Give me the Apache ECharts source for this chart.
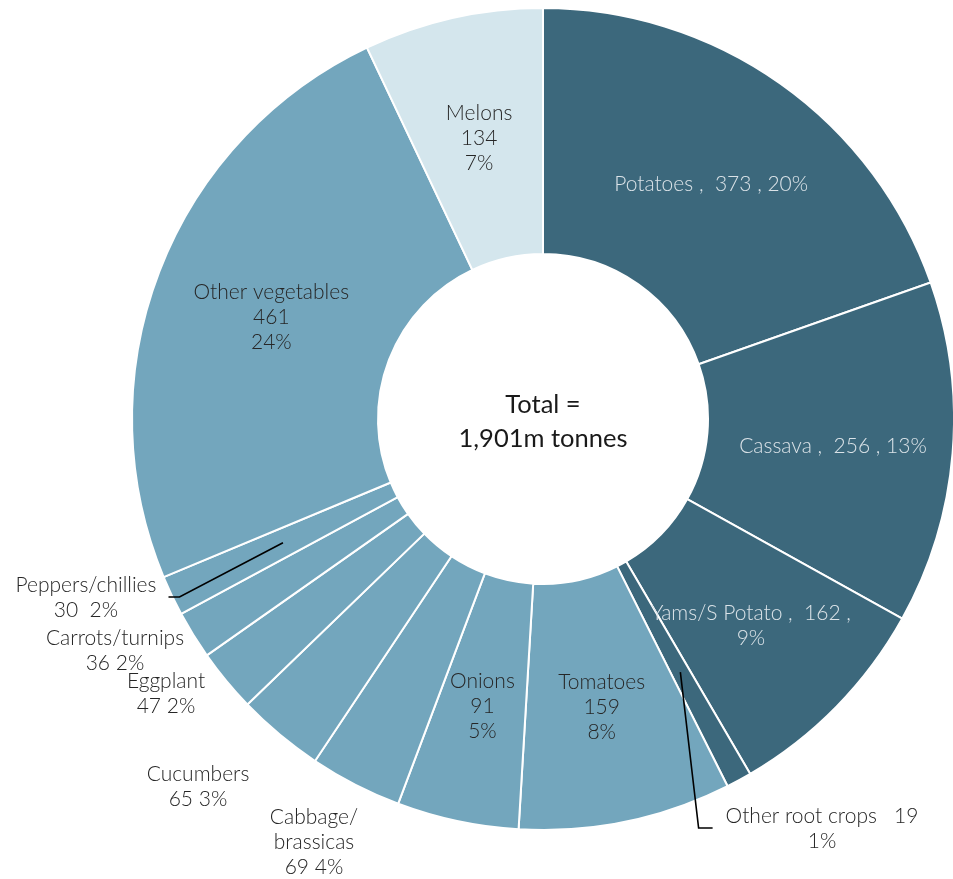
<!DOCTYPE html>
<html>
<head>
<meta charset="utf-8">
<script src="https://cdn.jsdelivr.net/npm/echarts@6/dist/echarts.min.js"></script>
<style>
  html, body { margin: 0; padding: 0; background: #ffffff; }
  #chart { width: 953px; height: 879px; }
</style>
</head>
<body>
<div id="chart"></div>
<script>
// Production by crop, million tonnes
const categories = [
  'Potatoes', 'Cassava', 'Yams/S Potato', 'Other root crops',
  'Tomatoes', 'Onions', 'Cabbage/brassicas', 'Cucumbers', 'Eggplant',
  'Carrots/turnips', 'Peppers/chillies', 'Other vegetables', 'Melons'
];
const production = [373, 256, 162, 19, 159, 91, 69, 65, 47, 36, 30, 461, 134];
const cropGroup = [
  'root', 'root', 'root', 'root',
  'veg', 'veg', 'veg', 'veg', 'veg', 'veg', 'veg', 'veg', 'melon'
];
const centreText = ['Total =', '1,901m tonnes'];

const groupColor = { root: '#3c687c', veg: '#73a6bd', melon: '#d4e6ed' };
const FONT = 'Lato';
const FONT_SIZE = 21;

// Slices whose labels sit outside the ring, with the centre of each label block
const outsideLabelAt = {
  'Other root crops': [822, 829],
  'Cabbage/brassicas': [314, 842],
  'Cucumbers': [198, 787],
  'Eggplant': [166, 694],
  'Carrots/turnips': [115, 651],
  'Peppers/chillies': [86, 598]
};
// Outside labels that get a leader line, and which side of the text it meets
const leaderSide = { 'Other root crops': 'left', 'Peppers/chillies': 'right' };

function labelText(name, value, pct) {
  switch (name) {
    case 'Potatoes':
    case 'Cassava':
      return name + ' ,  ' + value + ' , ' + pct + '%';
    case 'Yams/S Potato':
      return name + ' ,  ' + value + ' ,\n' + pct + '%';
    case 'Other root crops':
      return name + '   ' + value + '\n' + pct + '%';
    case 'Cabbage/brassicas':
      return 'Cabbage/\nbrassicas\n' + value + ' ' + pct + '%';
    case 'Peppers/chillies':
      return name + '\n' + value + '  ' + pct + '%';
    case 'Cucumbers':
    case 'Eggplant':
    case 'Carrots/turnips':
      return name + '\n' + value + ' ' + pct + '%';
    default:
      return name + '\n' + value + '\n' + pct + '%';
  }
}

const ringData = categories.map((name, i) => ({
  name,
  value: production[i],
  itemStyle: { color: groupColor[cropGroup[i]] },
  label: {
    show: !(name in outsideLabelAt),
    color: cropGroup[i] === 'root' ? '#dbe3e8' : '#262626'
  }
}));

// Transparent inner pie that carries the outer labels; its edge is the ring's mid radius
const guideData = categories.map((name, i) => ({
  name,
  value: production[i],
  label: { show: name in outsideLabelAt },
  labelLine: { show: name in leaderSide }
}));

const labelStyle = {
  fontFamily: FONT,
  fontWeight: 300,
  fontSize: FONT_SIZE,
  lineHeight: 25,
  formatter: p => labelText(p.name, p.value, p.percent)
};

const chart = echarts.init(document.getElementById('chart'), null, { renderer: 'canvas' });
chart.setOption({
  backgroundColor: '#ffffff',
  animation: false,
  series: [
    {
      type: 'pie',
      center: [543, 419],
      radius: [165, 411],
      startAngle: 90,
      clockwise: true,
      percentPrecision: 0,
      avoidLabelOverlap: false,
      silent: true,
      itemStyle: { borderColor: '#ffffff', borderWidth: 2 },
      label: Object.assign({ position: 'inside' }, labelStyle),
      labelLine: { show: false },
      labelLayout: { dy: 3 },
      data: ringData
    },
    {
      type: 'pie',
      center: [543, 419],
      radius: [0, 288],
      startAngle: 90,
      clockwise: true,
      percentPrecision: 0,
      avoidLabelOverlap: false,
      silent: true,
      z: 3,
      itemStyle: { color: 'rgba(0,0,0,0)', borderWidth: 0 },
      label: Object.assign({ position: 'outside', color: '#262626' }, labelStyle),
      labelLine: { show: true, lineStyle: { color: '#000000', width: 1.6 } },
      labelLayout: function (params) {
        const name = categories[params.dataIndex];
        const at = outsideLabelAt[name];
        if (!at) return {};
        const out = { x: at[0], y: at[1], align: 'center', verticalAlign: 'middle' };
        const side = leaderSide[name];
        if (side && params.labelLinePoints) {
          const half = params.labelRect.width / 2;
          const start = params.labelLinePoints[0];
          const lineY = at[1] - 1;
          if (side === 'right') {
            const end = at[0] + half + 12;
            out.labelLinePoints = [start, [end + 11, lineY], [end, lineY]];
          } else {
            const end = at[0] - half - 13;
            out.labelLinePoints = [start, [end - 14, lineY], [end, lineY]];
          }
        }
        return out;
      },
      data: guideData
    }
  ],
  graphic: [
    {
      type: 'text',
      x: 543,
      y: 422,
      silent: true,
      style: {
        text: centreText.join('\n'),
        fontFamily: FONT,
        fontSize: 25.5,
        lineHeight: 34,
        fill: '#1a1a1a',
        textAlign: 'center',
        textVerticalAlign: 'middle'
      }
    }
  ]
});
</script>
</body>
</html>
